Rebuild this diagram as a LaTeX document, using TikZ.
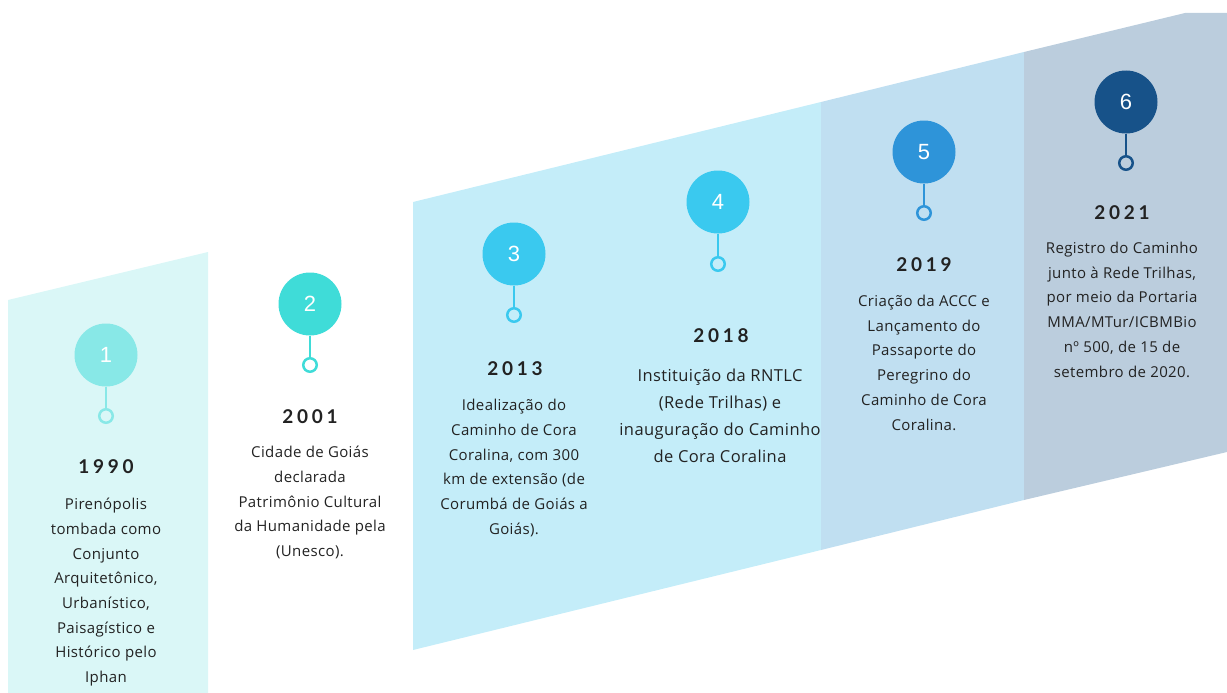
\documentclass[tikz,border=0pt]{standalone}
\usepackage{fontspec}
\setmainfont{Open Sans}[LetterSpace=2.5]
\newfontfamily\numfont{Liberation Sans}
\newfontfamily\yearfont{Lato}
\usepackage{tikz}
\usepackage{xcolor}
\definecolor{panelA}{HTML}{DAF7F7}
\definecolor{panelB}{HTML}{C4EDF9}
\definecolor{panelC}{HTML}{C0DFF1}
\definecolor{panelD}{HTML}{BBCDDD}
\definecolor{markA}{HTML}{88E8E7}
\definecolor{markB}{HTML}{3FDCD8}
\definecolor{markC}{HTML}{3AC9EF}
\definecolor{markD}{HTML}{2E94D9}
\definecolor{markE}{HTML}{175289}
\definecolor{inkgray}{HTML}{222222}
\tikzset{
marker/.style = {circle, fill=#1, text=white, minimum size=63pt, inner sep=0pt, font=\numfont\fontsize{22}{22}\selectfont},
marker/.default = markC, % colour of the big circle
dot/.style = {circle, draw=#1, line width=2.5pt, minimum size=13.5pt, inner sep=0pt},
stem/.style = {draw=#1, line width=2.5pt},
yearlabel/.style = {inner sep=0pt, text=inkgray, font=\yearfont\fontsize{19}{19}\selectfont\bfseries\addfontfeature{LetterSpace=20}},
event/.style = {anchor=north, inner sep=0pt, align=center, text=inkgray, font=\fontsize{15}{24.7}\selectfont},
}

\begin{document}
\begin{tikzpicture}[x=1pt,y=-1pt]
  \useasboundingbox (0,0) rectangle (1227,693);

  % Panels
    \fill[panelA] (8,300) -- (208,252) -- (208,693) -- (8,693) -- cycle;
    \fill[panelB] (413,202) -- (821,102) -- (821,550) -- (413,650) -- cycle;
    \fill[panelC] (821,102) -- (1024,52) -- (1024,500) -- (821,550) -- cycle;
    \fill[panelD] (1024,52) -- (1185,13) -- (1227,13) -- (1227,452) -- (1024,500) -- cycle;

  % Markers
    \node[marker=markA] (mark1) at (106,355) {1};
    \node[marker=markB] (mark2) at (310,304) {2};
    \node[marker=markC] (mark3) at (514,254) {3};
    \node[marker=markC] (mark4) at (718,202) {4};
    \node[marker=markD] (mark5) at (924,152) {5};
    \node[marker=markE] (mark6) at (1126,102) {6};

  % Dots
    \node[dot=markA] (dot1) at (106,416) {};
    \node[dot=markB] (dot2) at (310,365) {};
    \node[dot=markC] (dot3) at (514,315) {};
    \node[dot=markC] (dot4) at (718,264) {};
    \node[dot=markD] (dot5) at (924,213) {};
    \node[dot=markE] (dot6) at (1126,163) {};

  % Lines
    \draw[stem=markA] (mark1) -- (dot1);
    \draw[stem=markB] (mark2) -- (dot2);
    \draw[stem=markC] (mark3) -- (dot3);
    \draw[stem=markC] (mark4) -- (dot4);
    \draw[stem=markD] (mark5) -- (dot5);
    \draw[stem=markE] (mark6) -- (dot6);

  % Years
    \node[yearlabel] (year1) at (106,467) {1990};
    \node[yearlabel] (year2) at (310,417) {2001};
    \node[yearlabel] (year3) at (515,369) {2013};
    \node[yearlabel] (year4) at (721,336) {2018};
    \node[yearlabel] (year5) at (924,265) {2019};
    \node[yearlabel] (year6) at (1122,213) {2021};

  % Texts
    \node[event] (text1) at (106,498) {Pirenópolis\\tombada como\\Conjunto\\Arquitetônico,\\Urbanístico,\\Paisagístico e\\Histórico pelo\\Iphan};
    \node[event] (text2) at (310,446) {Cidade de Goiás\\declarada\\Patrimônio Cultural\\da Humanidade pela\\(Unesco).};
    \node[event] (text3) at (514,399) {Idealização do\\Caminho de Cora\\Coralina, com 300\\km de extensão (de\\Corumbá de Goiás a\\Goiás).};
    \node[event, font=\fontsize{16.5}{27}\selectfont] (text4) at (720,369) {Instituição da RNTLC\\(Rede Trilhas) e\\inauguração do Caminho\\de Cora Coralina};
    \node[event] (text5) at (924,295) {Criação da ACCC e\\Lançamento do\\Passaporte do\\Peregrino do\\Caminho de Cora\\Coralina.};
    \node[event] (text6) at (1122,242) {Registro do Caminho\\junto à Rede Trilhas,\\por meio da Portaria\\MMA/MTur/ICBMBio\\nº 500, de 15 de\\setembro de 2020.};
  \end{tikzpicture}
\end{document}
